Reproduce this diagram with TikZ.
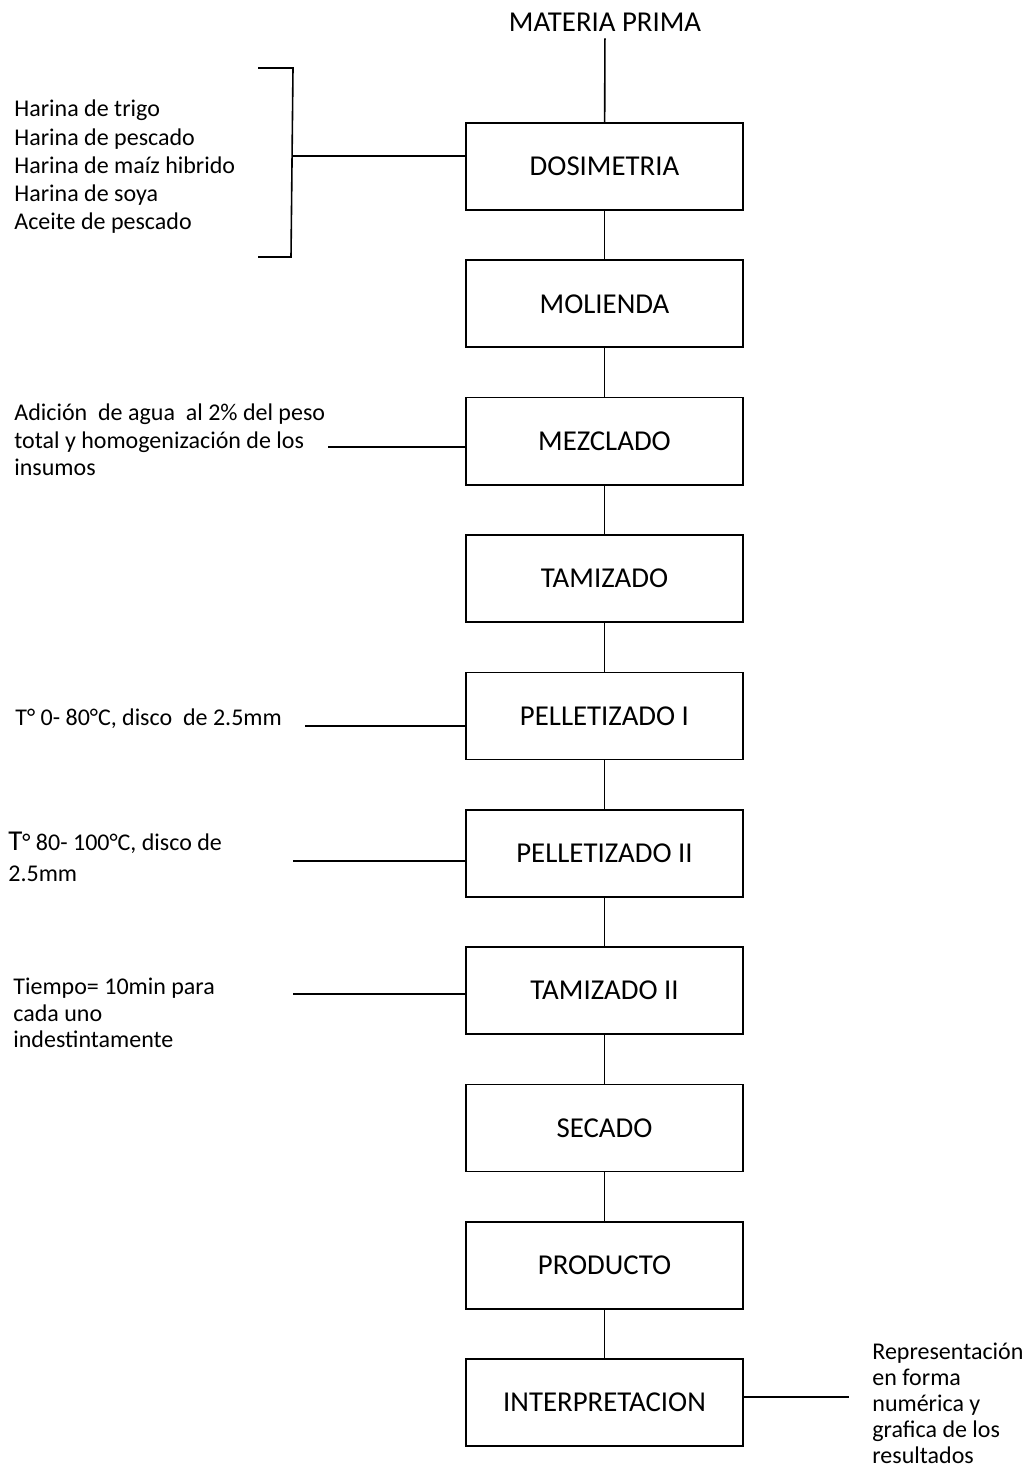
\documentclass[tikz,border=0pt]{standalone}
\usepackage{fontspec}
\setmainfont{Carlito}
\usetikzlibrary{positioning}

\tikzset{
  paso/.style={draw, line width=0.8pt, minimum width=138.5pt, minimum height=43.5pt,
    font=\fontsize{14.4}{16}\selectfont},
  nota/.style={anchor=west, align=left, inner sep=0pt,
    font=\fontsize{12}{13.5}\selectfont},
  linea/.style={line width=0.8pt}
}

\begin{document}
\begin{tikzpicture}[x=0.5pt, y=-0.5pt]
    \useasboundingbox (0,0) rectangle (1032,1470);

    % Entrada
    \node[font=\fontsize{14.4}{16}\selectfont] (mp) at (605,22) {MATERIA PRIMA};

    % Etapas del proceso
    \node[paso] (dosim)     at (604.5,166.5)  {DOSIMETRIA};
    \node[paso] (molienda)  at (604.5,303.8)  {MOLIENDA};
    \node[paso] (mezclado)  at (604.5,441.2)  {MEZCLADO};
    \node[paso] (tamizado)  at (604.5,578.5)  {TAMIZADO};
    \node[paso] (pelletI)   at (604.5,715.8)  {PELLETIZADO I};
    \node[paso] (pelletII)  at (604.5,853.2)  {PELLETIZADO II};
    \node[paso] (tamizadoII) at (604.5,990.5) {TAMIZADO II};
    \node[paso] (secado)    at (604.5,1127.8) {SECADO};
    \node[paso] (producto)  at (604.5,1265.2) {PRODUCTO};
    \node[paso] (interp)    at (604.5,1402.5) {INTERPRETACION};

    % Uniones verticales
    \draw[linea] (mp) -- (dosim);
    \draw[linea] (dosim) -- (molienda);
    \draw[linea] (molienda) -- (mezclado);
    \draw[linea] (mezclado) -- (tamizado);
    \draw[linea] (tamizado) -- (pelletI);
    \draw[linea] (pelletI) -- (pelletII);
    \draw[linea] (pelletII) -- (tamizadoII);
    \draw[linea] (tamizadoII) -- (secado);
    \draw[linea] (secado) -- (producto);
    \draw[linea] (producto) -- (interp);

    % Insumos con llave
    \node[nota, font=\fontsize{12}{14.15}\selectfont] (insumos) at (14,167)
      {Harina de trigo\\Harina de pescado\\Harina de maíz hibrido\\Harina de soya\\Aceite de pescado};
    \coordinate (llaveA) at (258,68);
    \coordinate (llaveB) at (293,68);
    \coordinate (llaveC) at (291,257);
    \coordinate (llaveD) at (258,257);
    \coordinate (llaveM) at (292,156);
    \draw[linea] (llaveA) -- (llaveB) -- (llaveC) -- (llaveD);
    \draw[linea] (llaveM) -- (llaveM -| dosim.west);

    % Mezclado
    \node[nota, font=\fontsize{12}{13.75}\selectfont] (agua) at (14,440)
      {Adición \ de agua \ al 2\% del peso\\total y homogenización de los\\insumos};
    \coordinate (cMez) at (328,447);
    \draw[linea] (cMez) -- (cMez -| mezclado.west);

    % Pelletizado I
    \node[nota] (temp1) at (15,719) {T° 0- 80°C, disco \ de 2.5mm};
    \coordinate (cPelI) at (305,726);
    \draw[linea] (cPelI) -- (cPelI -| pelletI.west);

    % Pelletizado II
    \node[nota, font=\fontsize{12}{15.5}\selectfont] (temp2) at (8,857)
      {{\fontsize{14.4}{15.5}\selectfont T}° 80- 100°C, disco de\\2.5mm};
    \coordinate (cPelII) at (293,861);
    \draw[linea] (cPelII) -- (cPelII -| pelletII.west);

    % Tamizado II
    \node[nota, font=\fontsize{12}{13.25}\selectfont] (tiempo) at (13,1013)
      {Tiempo= 10min para\\cada uno\\indestintamente};
    \coordinate (cTamII) at (293,994);
    \draw[linea] (cTamII) -- (cTamII -| tamizadoII.west);

    % Interpretacion
    \node[nota, font=\fontsize{12}{13}\selectfont] (repres) at (872,1403)
      {Representación\\en forma\\numérica y\\grafica de los\\resultados};
    \coordinate (cInt) at (849,1397);
    \draw[linea] (cInt -| interp.east) -- (cInt);
\end{tikzpicture}
\end{document}
